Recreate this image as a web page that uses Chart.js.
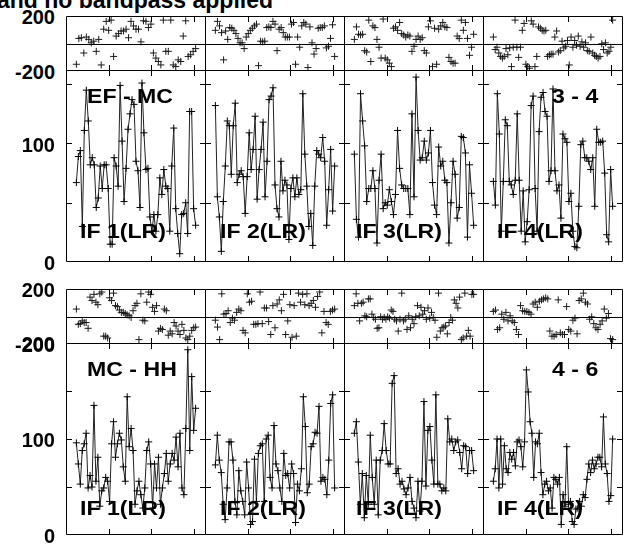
<!DOCTYPE html>
<html>
<head>
<meta charset="utf-8">
<script src="https://cdn.jsdelivr.net/npm/chart.js@4.4.1/dist/chart.umd.min.js"></script>
<style>
  html, body { margin: 0; padding: 0; background: #fff; }
  #page { position: relative; width: 628px; height: 548px; overflow: hidden; background: #fff;
          font-family: "Liberation Sans", Arial, sans-serif; font-weight: bold; color: #000; }
  #page canvas { position: absolute; }
  .lbl { position: absolute; white-space: nowrap; line-height: 1; }
</style>
</head>
<body>
<div id="page"></div>
<script>
// amplitudes, one list per IF (top block = EF - MC, bottom block = MC - HH)
const ampEF1 = [67, 89, 94, 30, 111, 145, 119, 82, 88, 82, 46, 54, 81, 62, 82, 82, 62, 15, 15, 88, 81, 64, 149, 102, 51, 79, 112, 125, 137, 133, 85, 77, 46, 151, 109, 78, 79, 38, 26, 40, 26, 40, 71, 57, 78, 64, 62, 26, 81, 113, 45, 24, 7, 40, 41, 50, 24, 127, 127, 45, 31];
const ampEF2 = [132, 55, 38, 9, 51, 81, 119, 115, 74, 115, 134, 67, 74, 77, 72, 41, 72, 109, 78, 95, 123, 53, 78, 95, 118, 55, 85, 137, 140, 147, 65, 45, 38, 85, 60, 69, 65, 19, 62, 71, 55, 71, 57, 61, 142, 91, 64, 30, 41, 14, 64, 94, 91, 88, 105, 85, 31, 61, 95, 43, 81];
const ampEF3 = [91, 36, 21, 142, 119, 98, 51, 62, 62, 77, 62, 16, 69, 91, 45, 50, 48, 61, 51, 40, 57, 111, 79, 65, 62, 62, 62, 40, 125, 55, 156, 111, 86, 88, 102, 86, 92, 111, 67, 48, 40, 97, 81, 85, 69, 67, 16, 50, 85, 74, 37, 46, 106, 105, 92, 21, 82, 58, 31];
const ampEF4 = [68, 48, 142, 108, 26, 68, 120, 115, 68, 65, 57, 69, 125, 69, 26, 60, 17, 34, 61, 132, 140, 62, 26, 110, 139, 143, 127, 123, 68, 77, 146, 77, 60, 65, 37, 108, 104, 101, 51, 58, 26, 13, 12, 47, 99, 102, 88, 88, 85, 78, 88, 47, 112, 101, 101, 102, 75, 23, 17, 78, 47];
const ampMC1 = [96, 74, 53, 88, 95, 106, 49, 62, 50, 135, 56, 81, 30, 46, 49, 60, 56, 35, 95, 118, 81, 95, 106, 99, 71, 56, 144, 92, 111, 88, 32, 46, 56, 42, 28, 49, 88, 97, 74, 28, 74, 49, 81, 32, 49, 64, 85, 56, 74, 85, 78, 102, 71, 106, 49, 42, 111, 193, 88, 165, 109, 132];
const ampMC2 = [73, 104, 78, 65, 32, 16, 49, 97, 97, 78, 35, 21, 67, 46, 35, 21, 76, 49, 11, 14, 79, 35, 85, 93, 95, 35, 100, 104, 60, 49, 114, 74, 67, 49, 35, 85, 62, 64, 49, 74, 64, 13, 53, 46, 69, 144, 113, 44, 53, 92, 95, 107, 106, 134, 56, 60, 58, 42, 78, 137, 146, 49];
const ampMC3 = [106, 118, 76, 32, 64, 18, 62, 32, 104, 60, 32, 78, 21, 78, 88, 116, 88, 74, 74, 158, 166, 64, 69, 53, 56, 48, 42, 49, 60, 35, 28, 18, 56, 25, 56, 139, 51, 109, 113, 78, 53, 146, 53, 53, 46, 49, 46, 121, 97, 100, 88, 97, 99, 86, 69, 93, 92, 64, 88, 88, 67];
const ampMC4 = [56, 69, 100, 49, 100, 53, 93, 69, 65, 86, 79, 86, 72, 97, 99, 92, 71, 97, 172, 149, 118, 106, 60, 97, 95, 106, 65, 42, 53, 56, 46, 49, 28, 60, 58, 53, 60, 11, 42, 30, 92, 32, 35, 14, 11, 27, 28, 35, 30, 42, 39, 58, 74, 65, 78, 69, 74, 81, 81, 71, 123, 74, 64, 35, 41, 100];

// phases in degrees, same order
const phEF1 = [-151, 37, 42, -69, 47, 30, 5, 17, -57, 30, -156, 104, 161, 96, 170, -94, 54, 72, 91, 91, 104, 42, 161, 128, 104, 104, 12, 165, 161, 116, 141, -69, -106, -131, -156, 170, -57, -57, 170, -156, -168, -119, -131, 54, 165, -94, -82, -57, -37];
const phEF2 = [96, 161, 128, 79, -119, 91, 30, 116, 111, 96, 72, 37, 5, 5, -37, 47, 72, 96, 111, 128, 141, -161, 17, 12, 17, 116, 121, 116, 161, 141, -52, 104, 116, 79, 47, 47, 47, 141, 153, -151, 47, -27, 128, 153, 141, -175, 121, 5, -77, -37, 111, 116, 116, 128, -32, -20, 37, 136, -94];
const phEF3 = [30, 121, 67, 62, 67, -52, -62, 170, -131, 128, 116, 30, -27, -106, 178, -106, -119, -143, -168, 111, 121, 96, 153, 72, 62, 47, 62, 54, -57, -20, 30, 54, 30, 42, -52, -69, 121, 165, -168, 111, -151, 104, 128, 153, 121, 116, -101, -131, -143, -143, 54, 37, 170, 96, 153, 37, -86, -27, 67];
const phEF4 = [47, -44, -27, -69, -94, -106, -94, -37, -82, -32, -168, -27, 170, -27, -101, -27, 96, 146, -151, -168, -180, 165, 141, -168, -94, 121, 111, 96, 91, 96, -94, -82, -77, -77, 47, 91, -62, -52, 17, -32, -20, 22, -156, 47, -27, 22, -12, 54, -20, 12, -27, 5, -52, -57, 47, -69, -86, -94, -106, -94, -2, -44, 5, -69, -57, -27, 170];
const phMC1 = [54, -57, -52, -32, -44, -44, -86, 141, 116, 161, 104, 86, 165, 178, -143, -143, -156, 136, 116, 170, 79, 72, 47, 30, 30, 22, 12, 5, -7, 42, 79, 96, -168, 165, -27, -32, 104, 178, 161, 67, 37, 79, -106, -86, -94, 54, 42, -136, -106, -126, -44, -69, -106, -131, -57, -101, -156, -168, -143, -101, -82, -77];
const phMC2 = [-27, -77, -168, 165, 17, 22, 42, -44, -12, -27, 30, 54, 42, -101, -119, 165, 104, 111, -57, -57, -52, 178, -52, 62, 62, -37, -131, 79, -82, 91, 121, 42, 161, -131, -32, 86, -151, 79, -143, 170, 104, 161, 86, 165, 79, 96, 116, 67, 146, 178, -119, 37, -44, -57, 37, 47, 54];
const phMC3 = [79, 165, 96, -32, 96, 104, 5, -2, 128, 128, 17, -7, -20, -86, -82, -2, -20, -7, -20, -2, -12, 47, 37, -20, -32, -106, -20, 170, -32, -20, -94, 5, -82, -20, -52, -2, 79, 5, 67, 17, 42, -20, 62, -12, 30, -7, -27, -151, 170, -106, -82, -77, -69, -126, -44, -7, -27, 121, 96, 62, 141, -168, -156, 170, -143, -101, -143, 161, 161];
const phMC4 = [37, 47, -94, -82, 17, -20, 30, -32, 5, -32, -44, -94, -131, 79, 42, 37, 37, 30, 17, 91, 104, 67, 111, 121, 128, 136, 128, -106, -143, -143, -131, 121, -119, -131, -131, 72, -94, -106, -27, -12, -126, 116, 128, 170, 104, 91, -20, -2, -52, -82, -94, -57, -32, 54, -12, 22, -161, -168];

const ampTicks = [50, 100, 150];
const hourTicks = [1, 2, 3];
const ifLabels = ['IF 1(LR)', 'IF 2(LR)', 'IF 3(LR)', 'IF 4(LR)'];

// layout of the two blocks
const colLeft = [66, 205, 344, 483];
const colWidth = 140;
const blocks = [
    { name: 'EF - MC', pair: '3 - 4', amps: [ampEF1, ampEF2, ampEF3, ampEF4], phases: [phEF1, phEF2, phEF3, phEF4],
      phTop: 16, ampTop: 70, ampMax: 162, ampLabels: [100, 0], nameBase: 103, ifBase: 238 },
    { name: 'MC - HH', pair: '4 - 6', amps: [ampMC1, ampMC2, ampMC3, ampMC4], phases: [phMC1, phMC2, phMC3, phMC4],
      phTop: 289, ampTop: 343, ampMax: 200, ampLabels: [200, 100, 0], nameBase: 376, ifBase: 515 }
];
const phHeight = 55;
const ampHeight = 192;
const hourMax = colWidth / 42.7;

const page = document.getElementById('page');

// frame, inward ticks and zero line drawn from the chart's own scales
const framePlugin = {
    id: 'frame',
    afterDatasetsDraw(chart, args, opts) {
        const ctx = chart.ctx;
        const a = chart.chartArea;
        const xh = chart.scales.xh;
        const y = chart.scales.y;
        ctx.save();
        ctx.strokeStyle = '#000';
        ctx.lineWidth = 1;
        ctx.beginPath();
        ctx.rect(a.left + 0.5, a.top + 0.5, a.right - a.left - 1, a.bottom - a.top - 1);
        hourTicks.forEach(h => {
            const px = Math.round(xh.getPixelForValue(h)) + 0.5;
            ctx.moveTo(px, a.bottom); ctx.lineTo(px, a.bottom - 6);
            ctx.moveTo(px, a.top); ctx.lineTo(px, a.top + 6);
        });
        if (opts.kind === 'amp') {
            ampTicks.forEach(v => {
                const py = Math.round(y.getPixelForValue(v)) + 0.5;
                ctx.moveTo(a.left, py); ctx.lineTo(a.left + 6, py);
                ctx.moveTo(a.right, py); ctx.lineTo(a.right - 6, py);
            });
        } else {
            const py = Math.round(y.getPixelForValue(0)) + 0.5;
            ctx.moveTo(a.left, py); ctx.lineTo(a.right, py);
        }
        ctx.stroke();
        ctx.restore();
    }
};

function makeChart(left, top, height, values, kind, yMin, yMax) {
    const canvas = document.createElement('canvas');
    canvas.width = colWidth;
    canvas.height = height;
    canvas.style.left = left + 'px';
    canvas.style.top = top + 'px';
    canvas.style.width = colWidth + 'px';
    canvas.style.height = height + 'px';
    page.appendChild(canvas);

    // sample index on x, with the margin seen in the picture on both sides
    const pad = (values.length - 1) * 0.087;
    const isAmp = kind === 'amp';
    return new Chart(canvas, {
        type: 'line',
        data: {
            datasets: [{
                data: values.map((v, i) => ({ x: i, y: v })),
                showLine: isAmp,
                borderColor: '#222',
                borderWidth: 1,
                pointStyle: 'cross',
                pointRadius: 3.5,
                pointBorderColor: isAmp ? '#000' : '#1a1a1a',
                pointBorderWidth: 1,
                tension: 0
            }]
        },
        options: {
            responsive: false,
            animation: false,
            events: [],
            layout: { padding: 0, autoPadding: false },
            plugins: { legend: { display: false }, tooltip: { enabled: false }, frame: { kind: kind } },
            scales: {
                x: { type: 'linear', display: false, min: -pad, max: values.length - 1 + pad },
                xh: { type: 'linear', display: false, min: 0, max: hourMax },
                y: { type: 'linear', display: false, min: yMin, max: yMax }
            }
        },
        plugins: [framePlugin]
    });
}

function addLabel(text, x, baseline, size, stretch, alignRight) {
    const d = document.createElement('div');
    d.className = 'lbl';
    d.textContent = text;
    d.style.fontSize = size + 'px';
    d.style.top = (baseline - 0.8465 * size) + 'px';
    if (alignRight) {
        d.style.right = (628 - x) + 'px';
        d.style.transformOrigin = 'right top';
    } else {
        d.style.left = x + 'px';
        d.style.transformOrigin = 'left top';
    }
    d.style.transform = 'scaleX(' + stretch + ')';
    page.appendChild(d);
}

blocks.forEach(b => {
    let phChart0, ampChart0;
    colLeft.forEach((left, c) => {
        const ph = makeChart(left, b.phTop, phHeight, b.phases[c], 'phase', -200, 200);
        const amp = makeChart(left, b.ampTop, ampHeight, b.amps[c], 'amp', 0, b.ampMax);
        if (c === 0) { phChart0 = ph; ampChart0 = amp; }
    });

    // y tick labels, placed from the first column's scales
    const tickSize = 20;
    [200, -200].forEach(v => {
        const py = b.phTop + phChart0.scales.y.getPixelForValue(v);
        addLabel(String(v), 55, py + 0.358 * tickSize + 1, tickSize, 1, true);
    });
    b.ampLabels.forEach(v => {
        const py = b.ampTop + ampChart0.scales.y.getPixelForValue(v);
        addLabel(String(v), 55, py + 0.358 * tickSize + 1, tickSize, 1, true);
    });

    // panel texts
    addLabel(b.name, 87, b.nameBase, 21, 1.1, false);
    addLabel(b.pair, 552, b.nameBase, 21, 1.1, false);
    const ifLeft = [80, 220, 356, 497];
    ifLabels.forEach((t, c) => addLabel(t, ifLeft[c], b.ifBase, 21, 1.1, false));
});

// title, cut off by the top of the picture
addLabel('and no bandpass applied', -3, 8, 23, 1, false);
</script>
</body>
</html>
